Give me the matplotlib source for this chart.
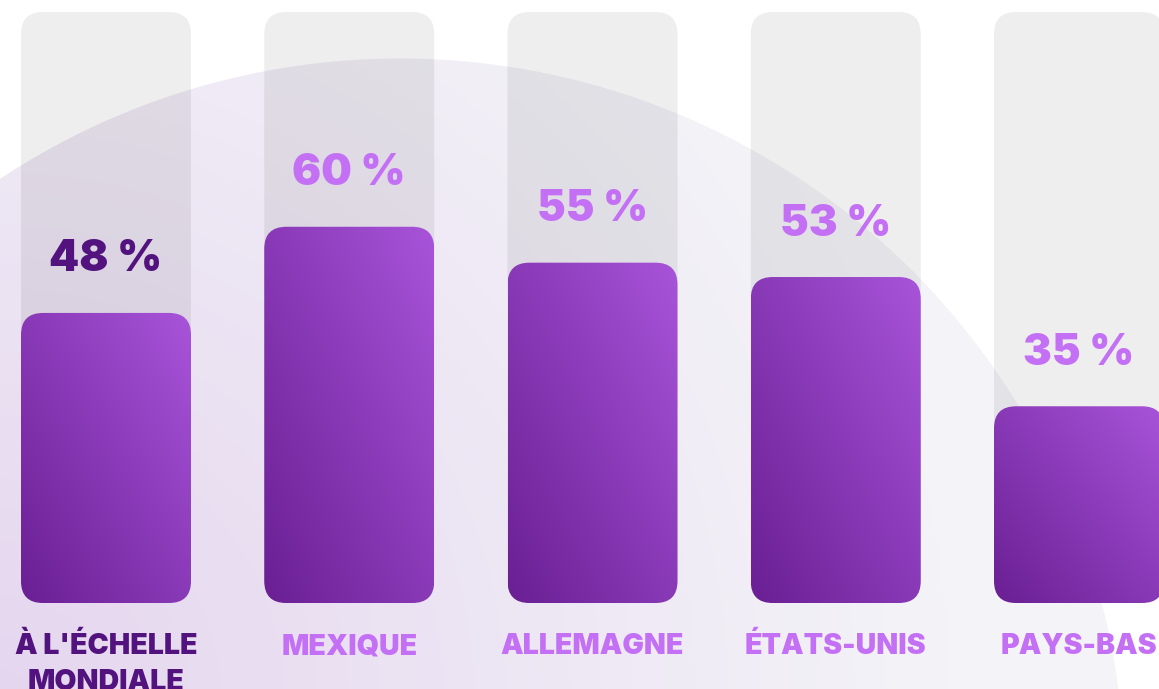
import numpy as np
import matplotlib.pyplot as plt
from matplotlib.patches import FancyBboxPatch
from matplotlib.colors import to_rgb

categories = ["À L'ÉCHELLE\nMONDIALE", "MEXIQUE", "ALLEMAGNE", "ÉTATS-UNIS", "PAYS-BAS"]
values = [48, 60, 55, 53, 35]
value_labels = ["48 %", "60 %", "55 %", "53 %", "35 %"]
highlight = [True, False, False, False, False]

W, H, DPI = 1159, 689, 100
PX_X = 243.25      # pixels per category step
PX_Y = 7.18        # pixels per percentage point
BASE_VALUE = 7.6   # value sitting on the bar baseline
BASE_PX = 86       # bar baseline, pixels from bottom
LEFT_PX = 106      # centre of the first bar, pixels from left
BAR_W = 170 / PX_X
TRACK_TOP = BASE_VALUE + 591 / PX_Y
RADIUS_PX = 22

DARK = '#52137f'
LIGHT = '#c470f5'
GRAD_LO = np.array(to_rgb('#6a1f93'))
GRAD_HI = np.array(to_rgb('#a854da'))

plt.rcParams['font.family'] = ['Inter', 'DejaVu Sans']

fig = plt.figure(figsize=(W / DPI, H / DPI), dpi=DPI)

# soft lavender disc in the background
bg = fig.add_axes([0, 0, 1, 1])
bg.set_axis_off()
yy, xx = np.mgrid[0:H, 0:W] + 0.5
d = np.hypot(xx - 400, yy - 783)
mask = np.clip(725 - d, 0, 1)[..., None]
t = np.clip(np.hypot(xx, yy - 700) / 950, 0, 1)[..., None]
inner = np.array(to_rgb('#e5d6ef')) * (1 - t) + np.array(to_rgb('#f4f4f8')) * t
img = inner * mask + 1.0 * (1 - mask)
bg.imshow(img, extent=(0, W, H, 0), aspect='auto', interpolation='bilinear')
bg.set_xlim(0, W)
bg.set_ylim(H, 0)

ax = fig.add_axes([0, 0, 1, 1])
ax.patch.set_alpha(0)
ax.set_axis_off()

aspect = PX_X / PX_Y
r = RADIUS_PX / PX_X
style = f"round,pad=0,rounding_size={r}"

gu, gw = np.meshgrid(np.linspace(0, 1, 60), np.linspace(1, 0, 200))
gt = ((gu + gw) / 2)[..., None]
grad = GRAD_LO * (1 - gt) + GRAD_HI * gt

for i, (cat, v, lab, hi) in enumerate(zip(categories, values, value_labels, highlight)):
    x0 = i - BAR_W / 2
    track = FancyBboxPatch((x0, BASE_VALUE), BAR_W, TRACK_TOP - BASE_VALUE,
                           boxstyle=style, mutation_aspect=aspect, fc='black',
                           alpha=0.067, ec='none', zorder=1)
    ax.add_patch(track)
    bar = FancyBboxPatch((x0, BASE_VALUE), BAR_W, v - BASE_VALUE, boxstyle=style,
                         mutation_aspect=aspect, fc='none', ec='none', zorder=2)
    ax.add_patch(bar)
    im = ax.imshow(grad, extent=(x0, x0 + BAR_W, BASE_VALUE, v), aspect='auto',
                   interpolation='bilinear', zorder=2)
    im.set_clip_path(bar)
    color = DARK if hi else LIGHT
    ax.text(i, v + 53 / PX_Y, lab, ha='center', va='center', fontsize=31,
            fontweight='black', color=color, zorder=3)
    ax.text(i, BASE_VALUE - 30 / PX_Y, cat, ha='center', va='top', fontsize=20.5,
            fontweight='black', color=color, linespacing=1.4, zorder=3)

ax.set_xlim(-LEFT_PX / PX_X, (W - LEFT_PX) / PX_X)
ax.set_ylim(BASE_VALUE - BASE_PX / PX_Y, BASE_VALUE + (H - BASE_PX) / PX_Y)

fig.savefig('out.png', dpi=DPI)
